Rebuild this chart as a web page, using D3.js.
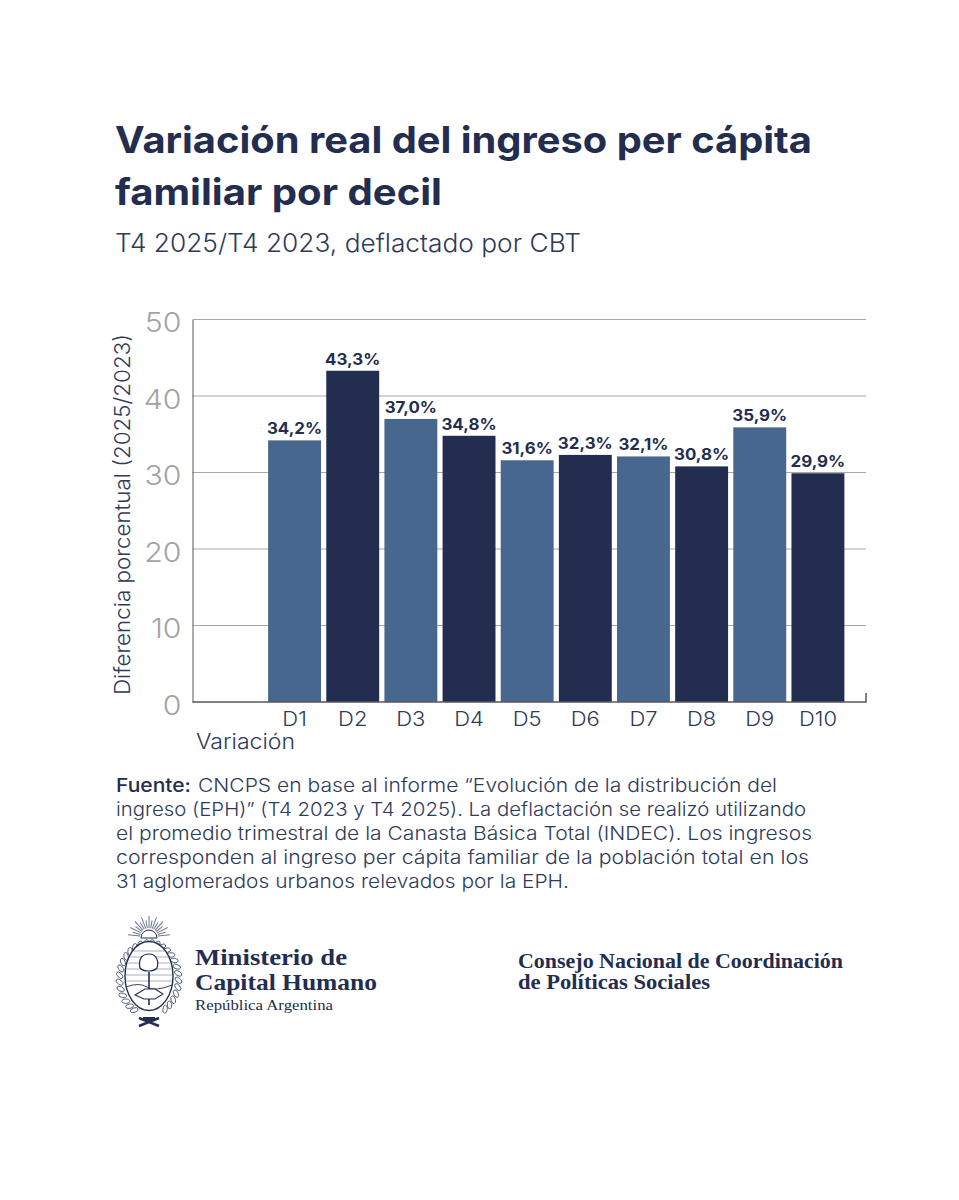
<!DOCTYPE html>
<html lang="es">
<head>
<meta charset="utf-8">
<script src="https://cdn.jsdelivr.net/npm/d3@7"></script>
<style>
  html, body { margin: 0; padding: 0; background: #fff; }
  svg { display: block; }
  text { font-family: Inter, "Open Sans", sans-serif; }
  .serif { font-family: "Liberation Serif", serif; }
</style>
</head>
<body>
<div id="chart"></div>
<script>
const deciles = ["D1", "D2", "D3", "D4", "D5", "D6", "D7", "D8", "D9", "D10"];
const values = [34.2, 43.3, 37.0, 34.8, 31.6, 32.3, 32.1, 30.8, 35.9, 29.9];
const yTicks = [0, 10, 20, 30, 40, 50];
const titleLines = ["Variación real del ingreso per cápita", "familiar por decil"];
const subtitle = "T4 2025/T4 2023, deflactado por CBT";
const sourceLines = [
    "CNCPS en base al informe “Evolución de la distribución del",
    "ingreso (EPH)” (T4 2023 y T4 2025). La deflactación se realizó utilizando",
    "el promedio trimestral de la Canasta Básica Total (INDEC). Los ingresos",
    "corresponden al ingreso per cápita familiar de la población total en los",
    "31 aglomerados urbanos relevados por la EPH."
];

const navy = "#232d4f";
const blue = "#48678f";
const gray = "#a3a3a3";
const slate = "#2f3a5a";

const titleWidths = [697, 327];
const sourceWidths = [579, 690, 696, 693, 453];

const svg = d3.select("#chart").append("svg")
    .attr("width", 959)
    .attr("height", 1200)
    .attr("viewBox", "0 0 959 1200");

// The design font is wider than anything installed, so stretch the text a bit
function widen(selection, factor) {
    selection.each(function() {
        d3.select(this)
            .attr("textLength", this.getComputedTextLength() * factor)
            .attr("lengthAdjust", "spacingAndGlyphs");
    });
}

// Titles
svg.selectAll(".title")
    .data(titleLines)
    .enter()
    .append("text")
    .attr("class", "title")
    .attr("x", 115)
    .attr("y", (d, i) => 153 + i * 52)
    .attr("fill", navy)
    .attr("textLength", (d, i) => titleWidths[i])
    .attr("lengthAdjust", "spacingAndGlyphs")
    .style("font-size", "36.5px")
    .style("font-weight", 700)
    .text(d => d);

svg.append("text")
    .attr("x", 115)
    .attr("y", 252)
    .attr("fill", slate)
    .attr("textLength", 466)
    .attr("lengthAdjust", "spacingAndGlyphs")
    .style("font-size", "25px")
    .style("font-weight", 300)
    .text(subtitle);

// Chart scales
const plotLeft = 192.5, plotRight = 866, plotTop = 319.5, plotBottom = 702;

const y = d3.scaleLinear().domain([0, 50]).range([plotBottom, plotTop]);
const x = d3.scaleBand()
    .domain(deciles)
    .range([265.5, 847])
    .paddingInner(0.09)
    .paddingOuter(0.045);

// Grid lines
svg.append("g")
    .selectAll("line")
    .data(yTicks.filter(d => d > 0))
    .enter()
    .append("line")
    .attr("x1", plotLeft)
    .attr("x2", plotRight)
    .attr("y1", d => y(d))
    .attr("y2", d => y(d))
    .attr("stroke", "#a8a8a8")
    .attr("stroke-width", 1);

// Bars
svg.append("g")
    .selectAll("rect")
    .data(values)
    .enter()
    .append("rect")
    .attr("x", (d, i) => x(deciles[i]))
    .attr("y", d => y(d))
    .attr("width", x.bandwidth())
    .attr("height", d => y(0) - y(d))
    .attr("fill", (d, i) => i % 2 === 0 ? blue : navy);

// Value labels
svg.append("g")
    .selectAll("text")
    .data(values)
    .enter()
    .append("text")
    .attr("x", (d, i) => x(deciles[i]) + x.bandwidth() / 2)
    .attr("y", d => y(d) - 6)
    .attr("text-anchor", "middle")
    .attr("fill", navy)
    .style("font-size", "15.5px")
    .style("font-weight", 700)
    .text(d => d.toFixed(1).replace(".", ",") + "%")
    .call(widen, 1.09);

// Y axis
const yAxis = svg.append("g")
    .attr("transform", `translate(${plotLeft},0)`)
    .call(d3.axisLeft(y).tickValues(yTicks).tickSize(0).tickPadding(11));
yAxis.select(".domain").attr("stroke", "#55585f").attr("stroke-width", 1);
yAxis.selectAll("text")
    .attr("fill", gray)
    .attr("dy", "0.44em")
    .style("font-size", "27.5px")
    .style("font-weight", 300)
    .style("font-family", "Inter, sans-serif")
    .call(widen, 1.1);

// X axis
const xAxis = svg.append("g")
    .attr("transform", `translate(0,${plotBottom})`)
    .call(d3.axisBottom(x).tickSize(0).tickPadding(10));
xAxis.select(".domain").remove();
xAxis.selectAll("text")
    .attr("fill", slate)
    .style("font-size", "20px")
    .style("font-weight", 300)
    .style("font-family", "Inter, sans-serif")
    .call(widen, 1.1);

svg.append("path")
    .attr("d", `M${plotLeft},${plotBottom}H${plotRight}V${plotBottom - 9}`)
    .attr("fill", "none")
    .attr("stroke", "#55585f")
    .attr("stroke-width", 1.5);

// Axis titles
svg.append("text")
    .attr("x", 196)
    .attr("y", 749)
    .attr("fill", slate)
    .attr("textLength", 99)
    .attr("lengthAdjust", "spacingAndGlyphs")
    .style("font-size", "21px")
    .style("font-weight", 300)
    .text("Variación");

svg.append("text")
    .attr("transform", "translate(130,695) rotate(-90)")
    .attr("fill", slate)
    .attr("textLength", 361)
    .attr("lengthAdjust", "spacingAndGlyphs")
    .style("font-size", "22px")
    .style("font-weight", 300)
    .text("Diferencia porcentual (2025/2023)");

// Source note
const note = svg.append("g");
note.selectAll("text")
    .data(sourceLines)
    .enter()
    .append("text")
    .attr("x", (d, i) => i === 0 ? 198 : 116)
    .attr("y", (d, i) => 791.5 + i * 24.2)
    .attr("fill", slate)
    .attr("textLength", (d, i) => sourceWidths[i])
    .attr("lengthAdjust", "spacingAndGlyphs")
    .style("font-size", "18.5px")
    .style("font-weight", 300)
    .text(d => d);
note.append("text")
    .attr("x", 116)
    .attr("y", 791.5)
    .attr("fill", navy)
    .attr("textLength", 75)
    .attr("lengthAdjust", "spacingAndGlyphs")
    .style("font-size", "18.5px")
    .style("font-weight", 500)
    .text("Fuente:");

// Emblem, drawn by hand
const emblem = svg.append("g")
    .attr("transform", "translate(149,978)")
    .attr("fill", "none")
    .attr("stroke", navy);

// Sun rays
emblem.append("g")
    .selectAll("line")
    .data(d3.range(-84, 85, 10.5))
    .enter()
    .append("line")
    .attr("transform", d => `translate(0,-41) rotate(${d})`)
    .attr("y1", -9)
    .attr("y2", (d, i) => i % 2 === 0 ? -21 : -17)
    .attr("stroke-width", 1)
    .attr("opacity", 0.65);

// Laurel leaves around the oval
emblem.append("g")
    .selectAll("ellipse")
    .data(d3.range(-150, 151, 11))
    .enter()
    .append("ellipse")
    .attr("transform", d => {
        const a = (d + 180) * Math.PI / 180;
        return `translate(${-Math.sin(a) * 29.5},${Math.cos(a) * 36 + 1}) rotate(${d + 40})`;
    })
    .attr("rx", 2.2)
    .attr("ry", 4)
    .attr("fill", "#fff")
    .attr("stroke-width", 0.7);

emblem.append("ellipse").attr("cy", -2).attr("rx", 24).attr("ry", 34.5).attr("fill", "#fff").attr("stroke-width", 1.4);

// Sky stripes
emblem.append("g")
    .selectAll("line")
    .data([-27, -21, -15, -9, -3, 3])
    .enter()
    .append("line")
    .attr("x1", d => -Math.sqrt(1 - ((d + 2) * (d + 2)) / (34 * 34)) * 23)
    .attr("x2", d => Math.sqrt(1 - ((d + 2) * (d + 2)) / (34 * 34)) * 23)
    .attr("y1", d => d)
    .attr("y2", d => d)
    .attr("stroke-width", 0.7)
    .attr("opacity", 0.55);

emblem.append("path").attr("d", "M-23,9Q-10,4 -2,9T23,7").attr("fill", "none").attr("stroke-width", 0.9);
emblem.append("path").attr("d", "M0,-6V27").attr("stroke-width", 1.6);
emblem.append("path")
    .attr("d", "M-9,-10C-11,-19 -7,-24 0,-24C8,-24 10,-16 8,-10C4,-6 -5,-6 -9,-10Z")
    .attr("fill", "#fff")
    .attr("stroke-width", 1.2);
emblem.append("path")
    .attr("d", "M-14,17L-4,11L6,11L14,16L6,21L-5,21Z")
    .attr("fill", "#fff")
    .attr("stroke-width", 1.1);
emblem.append("path").attr("d", "M-10,48L10,40M10,48L-10,40").attr("stroke-width", 2.5);
emblem.append("path").attr("d", "M-6,41H6").attr("stroke-width", 4);
emblem.append("path").attr("d", "M-8,-40A8,8 0 0 1 8,-40Z").attr("fill", "#fff").attr("stroke-width", 1);

// Logos text
const logoText = [
    { t: "Ministerio de", x: 195, y: 965, s: 24, w: 700, l: 152 },
    { t: "Capital Humano", x: 195, y: 990, s: 24, w: 700, l: 182 },
    { t: "República Argentina", x: 195, y: 1010, s: 15, w: 400, l: 138 },
    { t: "Consejo Nacional de Coordinación", x: 518, y: 968, s: 20.5, w: 700, l: 325 },
    { t: "de Políticas Sociales", x: 518, y: 989, s: 20.5, w: 700, l: 192 }
];
svg.append("g")
    .selectAll("text")
    .data(logoText)
    .enter()
    .append("text")
    .attr("class", "serif")
    .attr("x", d => d.x)
    .attr("y", d => d.y)
    .attr("fill", navy)
    .attr("textLength", d => d.l)
    .attr("lengthAdjust", "spacingAndGlyphs")
    .style("font-size", d => d.s + "px")
    .style("font-weight", d => d.w)
    .text(d => d.t);
</script>
</body>
</html>
